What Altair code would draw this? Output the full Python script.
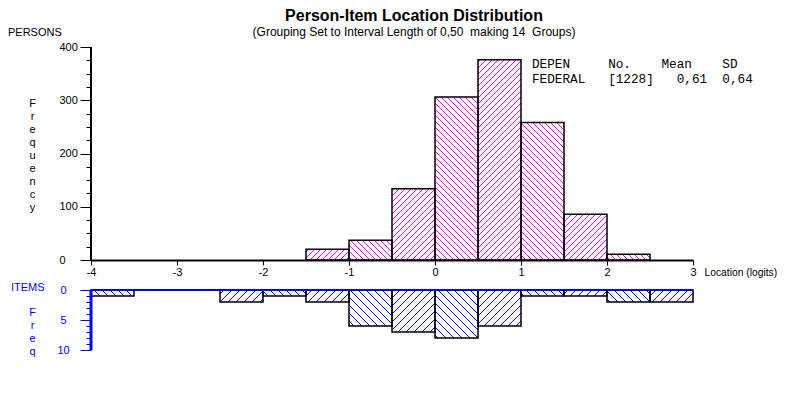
import math
import altair as alt
import pandas as pd

# ---------------- data ----------------
bin_left = [-4.0, -3.5, -3.0, -2.5, -2.0, -1.5, -1.0, -0.5, 0.0, 0.5, 1.0, 1.5, 2.0, 2.5]
bin_width = 0.5
person_counts = [0, 0, 0, 0, 0, 20, 37, 134, 306, 376, 258, 86, 11, 0]
item_counts = [1, 0, 0, 2, 1, 2, 6, 7, 8, 6, 1, 1, 2, 2]
x_ticks = [-4, -3, -2, -1, 0, 1, 2, 3]
person_ticks = list(range(0, 401, 25))
item_ticks = list(range(0, 11))
NB = "\u00a0"
legend_rows = [
    "DEPEN     No.    Mean    SD".replace(" ", NB),
    "FEDERAL   [1228]   0,61  0,64".replace(" ", NB),
]
title_text = "Person-Item Location Distribution"
subtitle_text = "(Grouping Set to Interval Length of 0,50  making 14  Groups)".replace("  ", NB + " ")

# ---------------- layout ----------------
W, H = 602, 303
TOP_H = 213            # pixel height of persons panel (0..400)
ITEM_TOP = 243         # pixel row of items zero line
ITEM_PX = 6            # pixels per item
X_MIN, X_MAX = -4, 3
PX_X = W / (X_MAX - X_MIN)
PX_P = TOP_H / 400
P_MIN = -(H - TOP_H) / PX_P
I_MIN = -ITEM_TOP / ITEM_PX

MAGENTA = "#ff00ff"
BLUE = "#0000ff"
FONT = "Liberation Sans"


def hatch(L, R, T, B, direction, d):
    segs = []
    if direction == "back":   # "\" on screen: sy = sx + c
        cmin, cmax = T - R, B - L
        k = math.floor(cmin / d) + 1
        while k * d < cmax:
            c = k * d
            a = max(L, T - c)
            b = min(R, B - c)
            if b - a > 0.5:
                segs.append((a, a + c, b, b + c))
            k += 1
    else:                     # "/" on screen: sy = c - sx
        cmin, cmax = T + L, B + R
        k = math.floor(cmin / d) + 1
        while k * d < cmax:
            c = k * d
            a = max(L, c - B)
            b = min(R, c - T)
            if b - a > 0.5:
                segs.append((a, c - a, b, c - b))
            k += 1
    return segs


p_rows, i_rows, hp_rows, hi_rows = [], [], [], []
for idx, (x0, pc, ic) in enumerate(zip(bin_left, person_counts, item_counts)):
    x1 = x0 + bin_width
    direction = "back" if idx % 2 == 0 else "fwd"
    L = (x0 - X_MIN) * PX_X
    R = (x1 - X_MIN) * PX_X
    if pc > 0:
        p_rows.append({"x0": x0, "x1": x1, "count": pc, "zero": 0})
        T = TOP_H - pc * PX_P
        for (a, ya, b, yb) in hatch(L, R, T, TOP_H, direction, 6):
            hp_rows.append({"x": a / PX_X + X_MIN, "x2": b / PX_X + X_MIN,
                            "y": (TOP_H - ya) / PX_P, "y2": (TOP_H - yb) / PX_P})
    if ic > 0:
        i_rows.append({"x0": x0, "x1": x1, "count": ic, "zero": 0})
        Bm = ITEM_TOP + ic * ITEM_PX
        for (a, ya, b, yb) in hatch(L, R, ITEM_TOP, Bm, direction, 8):
            hi_rows.append({"x": a / PX_X + X_MIN, "x2": b / PX_X + X_MIN,
                            "y": (ya - ITEM_TOP) / ITEM_PX, "y2": (yb - ITEM_TOP) / ITEM_PX})

p_df = pd.DataFrame(p_rows)
i_df = pd.DataFrame(i_rows)
hp_df = pd.DataFrame(hp_rows)
hi_df = pd.DataFrame(hi_rows)

xs = alt.Scale(domain=[X_MIN, X_MAX], nice=False, zero=False)
ysP = alt.Scale(domain=[P_MIN, 400], nice=False, zero=False)
ysI = alt.Scale(domain=[I_MIN, 10], nice=False, zero=False, reverse=True)

axis_x = alt.Axis(
    values=x_ticks, orient="bottom", offset=-(H - TOP_H), grid=False,
    domainColor="black", domainWidth=2, tickColor="black", tickSize=5, tickWidth=1,
    labelFont=FONT, labelFontSize=11, labelColor="black", labelPadding=1,
    labelExpr="datum.value + ''", labelFlush=False,
    title="Location (logits)", titleX=613, titleY=12, titleAlign="left",
    titleBaseline="middle", titleFontWeight="normal", titleFontSize=10.3,
    titleFont=FONT, titleColor="black",
)
axis_yP = alt.Axis(
    orient="left", values=person_ticks, domain=False, grid=False,
    tickSize={"condition": {"test": "datum.value % 100 === 0", "value": 11}, "value": 5},
    tickColor="black", tickWidth=1,
    labelExpr="datum.value % 100 === 0 ? datum.value + '' : ''",
    labelAlign="left", labelPadding=21, labelFont=FONT, labelFontSize=11, labelColor="black",
    title=list("Frequency"), titleAngle=0, titleX=-59, titleY=50, titleAlign="center",
    titleBaseline="top", titleLineHeight=13, titleFontWeight="normal", titleFontSize=11,
    titleFont=FONT, titleColor="black",
)
axis_yI = alt.Axis(
    orient="left", values=item_ticks, domain=False, grid=False,
    tickSize={"condition": {"test": "datum.value % 5 === 0", "value": 11}, "value": 5},
    tickColor=BLUE, tickWidth=1,
    labelExpr="datum.value % 5 === 0 ? datum.value + '' : ''",
    labelAlign="center", labelPadding=17, labelFont=FONT, labelFontSize=11, labelColor=BLUE,
    title=list("Freq"), titleAngle=0, titleX=-59, titleY=259, titleAlign="center",
    titleBaseline="top", titleLineHeight=13, titleFontWeight="normal", titleFontSize=11,
    titleFont=FONT, titleColor=BLUE,
)

X = lambda f: alt.X(f, type="quantitative", scale=xs, axis=axis_x)

# persons
hatchP = alt.Chart(hp_df).mark_rule(color=MAGENTA, strokeWidth=1).encode(
    x=X("x"), x2="x2", y=alt.Y("y:Q", scale=ysP, axis=axis_yP), y2="y2")
barsP = alt.Chart(p_df).mark_rect(fillOpacity=0, stroke="black", strokeWidth=1.5).encode(
    x=X("x0"), x2="x1", y=alt.Y("count:Q", scale=ysP, axis=axis_yP), y2="zero")
axisP = alt.Chart(pd.DataFrame({"x": [X_MIN], "y": [0], "y2": [400]})).mark_rule(
    color="black", strokeWidth=2).encode(
    x=X("x"), y=alt.Y("y:Q", scale=ysP, axis=axis_yP), y2="y2")
persons = alt.layer(hatchP, barsP, axisP)

# items
hatchI = alt.Chart(hi_df).mark_rule(color=BLUE, strokeWidth=1).encode(
    x=X("x"), x2="x2", y=alt.Y("y:Q", scale=ysI, axis=axis_yI), y2="y2")
barsI = alt.Chart(i_df).mark_rect(fillOpacity=0, stroke="black", strokeWidth=1.5).encode(
    x=X("x0"), x2="x1", y=alt.Y("count:Q", scale=ysI, axis=axis_yI), y2="zero")
baseI = alt.Chart(pd.DataFrame({"x": [X_MIN], "x2": [X_MAX], "y": [0]})).mark_rule(
    color=BLUE, strokeWidth=2).encode(
    x=X("x"), x2="x2", y=alt.Y("y:Q", scale=ysI, axis=axis_yI))
axisI = alt.Chart(pd.DataFrame({"x": [X_MIN], "y": [0], "y2": [10]})).mark_rule(
    color=BLUE, strokeWidth=3).encode(
    x=X("x"), y=alt.Y("y:Q", scale=ysI, axis=axis_yI), y2="y2")
items = alt.layer(hatchI, barsI, baseI, axisI)

# annotations
def label(text, x, y, color="black", font=FONT, size=11):
    return alt.Chart(pd.DataFrame({"t": [text]})).mark_text(
        align="left", baseline="middle", font=font, fontSize=size, color=color
    ).encode(text="t:N", x=alt.value(x), y=alt.value(y))

persons_lbl = label("PERSONS", -83, -14)
items_lbl = label("ITEMS", -80, 241, color=BLUE)
leg1 = label(legend_rows[0], 441, 17, font="Liberation Mono", size=12.7)
leg2 = label(legend_rows[1], 441, 32, font="Liberation Mono", size=12.7)

chart = alt.layer(persons, items, persons_lbl, items_lbl, leg1, leg2).resolve_scale(
    y="independent"
).properties(
    width=W, height=H,
    autosize=alt.AutoSizeParams(type="none"),
    padding={"left": 83, "top": 39, "right": 84, "bottom": 39},
    background="white",
    title=alt.TitleParams(
        text=title_text, subtitle=subtitle_text, anchor="middle", frame="group", dx=22,
        font=FONT, fontSize=16, fontWeight="bold", color="black",
        subtitleFont=FONT, subtitleFontSize=12, subtitleColor="black", subtitlePadding=3,
        offset=-11,
    ),
).configure_view(stroke=None)

chart.save("out.html", embed_options={"renderer": "svg", "actions": False})
